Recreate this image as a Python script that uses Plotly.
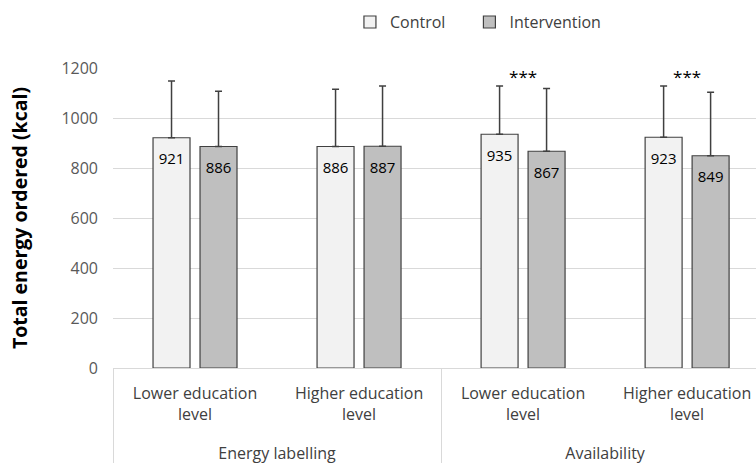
import plotly.graph_objects as go

# ---- data ----
groups = ["Energy labelling", "Energy labelling", "Availability", "Availability"]
subgroups = ["Lower education<br>level", "Higher education<br>level",
             "Lower education<br>level", "Higher education<br>level"]
control = [921, 886, 935, 923]
intervention = [886, 887, 867, 849]
control_sd = [227, 229, 193, 205]
intervention_sd = [221, 241, 251, 254]
sig_labels = ["", "", "***", "***"]
sig_y = [1158, 1158, 1158, 1158]
y_ticks = [0, 200, 400, 600, 800, 1000, 1200]

FONT = "'Open Sans', sans-serif"
# spacer line below the first-level labels so the group labels sit lower (as in the reference)
LABEL_SPACER = "<br><span style='font-size:34px'>&nbsp;</span>"
x = [groups, [s + LABEL_SPACER for s in subgroups]]
PAD = "<span style='font-size:4px'>&nbsp;</span><br>"

def bar_text(vals):
    return [PAD + str(v) for v in vals]

fig = go.Figure()
fig.add_trace(go.Bar(
    name="Control", x=x, y=control, legend="legend",
    marker=dict(color="#f2f2f2", line=dict(color="#404040", width=1.2)),
    error_y=dict(type="data", array=control_sd, arrayminus=[0] * 4, symmetric=False,
                 color="#404040", thickness=1.5, width=3.5),
    text=bar_text(control), textposition="inside", insidetextanchor="end",
    textangle=0, constraintext="none",
    insidetextfont=dict(family=FONT, size=15, color="#000000"),
))
fig.add_trace(go.Bar(
    name="Intervention", x=x, y=intervention, legend="legend2",
    marker=dict(color="#bfbfbf", line=dict(color="#404040", width=1.2)),
    error_y=dict(type="data", array=intervention_sd, arrayminus=[0] * 4, symmetric=False,
                 color="#404040", thickness=1.5, width=3.5),
    text=bar_text(intervention), textposition="inside", insidetextanchor="end",
    textangle=0, constraintext="none",
    insidetextfont=dict(family=FONT, size=15, color="#000000"),
))
fig.add_trace(go.Scatter(
    x=x, y=sig_y, mode="text", text=sig_labels, textposition="middle center",
    textfont=dict(family=FONT, size=17, color="#000000"), showlegend=False, hoverinfo="skip",
))

legend_style = dict(orientation="h", y=1.153, yanchor="middle", xanchor="left",
                    font=dict(family=FONT, size=16, color="#404040"),
                    bgcolor="rgba(0,0,0,0)")

fig.update_layout(
    width=756, height=463,
    margin=dict(l=113, r=0, t=68, b=95, autoexpand=False),
    paper_bgcolor="white", plot_bgcolor="white",
    barmode="group", bargap=0.427, bargroupgap=0.213,
    font=dict(family=FONT, size=16, color="#404040"),
    showlegend=True,
    legend=dict(x=0.3685, **legend_style),
    legend2=dict(x=0.5543, **legend_style),
    xaxis=dict(type="multicategory", range=[-0.5, 3.42], showline=True, linecolor="#d9d9d9",
               linewidth=1, showgrid=False, showdividers=True, dividercolor="#d9d9d9",
               dividerwidth=1, tickfont=dict(family=FONT, size=16, color="#404040"),
               automargin=False, ticks="", ticklabelstandoff=11),
    yaxis=dict(range=[0, 1200], tickvals=y_ticks, showgrid=True, gridcolor="#d9d9d9",
               gridwidth=1, zeroline=False, showline=False,
               tickfont=dict(family=FONT, size=16, color="#595959"),
               ticklabelstandoff=14, automargin=False,
               title=dict(text="<b>Total energy ordered (kcal)</b>",
                          font=dict(family=FONT, size=19.5, color="#000000"), standoff=28)),
)

fig.write_html("out.html", config={"displayModeBar": False},
               post_script="document.body.style.margin='0';")
